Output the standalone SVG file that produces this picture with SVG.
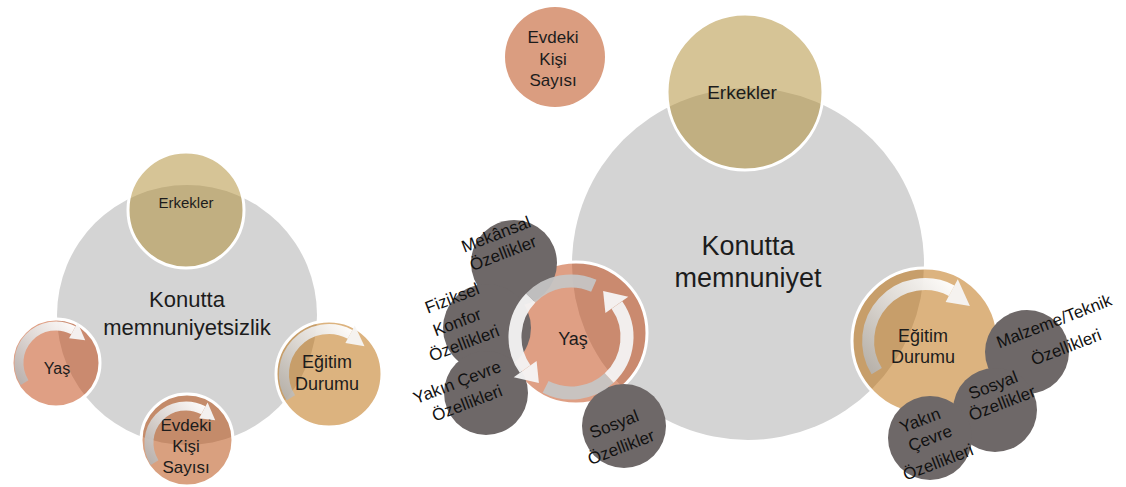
<svg xmlns="http://www.w3.org/2000/svg" width="1126" height="487" viewBox="0 0 1126 487">
<defs>
<style>
text { font-family: "Liberation Sans", Arial, sans-serif; fill: #1c1c1c; text-anchor: middle; }
.hub { fill: #D4D4D4; }
.node { stroke: #ffffff; stroke-width: 3; }
.tan { fill: #AD892D; fill-opacity: 0.5; }
.salmon { fill: #BF3F09; fill-opacity: 0.5; }
.gold { fill: #B96700; fill-opacity: 0.5; }
.clay { fill: #B34100; fill-opacity: 0.5; }
.solid { fill: #DA9D80; }
.dark { fill: #6E6868; }
.lbl { font-size: 17px; fill: #111111; }
.band { fill: none; stroke: url(#armG); }
.gband { fill: none; stroke: #C6C6C6; stroke-opacity: 0.92; stroke-width: 13; }
.wband { fill: none; stroke: #F3F3F3; stroke-opacity: 0.95; stroke-width: 13; }
.head { fill: #F6F6F6; fill-opacity: 0.95; }
</style>
<linearGradient id="armG" x1="0" y1="1" x2="1" y2="0">
<stop offset="0" stop-color="#B4B4B4" stop-opacity="0.85"/>
<stop offset="0.55" stop-color="#E2E2E2" stop-opacity="0.9"/>
<stop offset="1" stop-color="#FFFFFF" stop-opacity="0.95"/>
</linearGradient>
</defs>
<rect width="1126" height="487" fill="#ffffff"/>

<!-- Left diagram -->
<g id="hub-left">
<circle class="hub" cx="187" cy="315" r="130"/>
<text x="187" y="307" font-size="22">Konutta</text>
<text x="187" y="335" font-size="22">memnuniyetsizlik</text>
</g>
<g id="left-erkekler">
<circle class="node tan" cx="186" cy="210" r="58"/>
<text x="186" y="208" font-size="15">Erkekler</text>
</g>
<g id="left-yas">
<circle class="node salmon" cx="56" cy="363" r="44"/>
<text x="57" y="374" font-size="16">Yaş</text>
</g>
<g id="left-egitim">
<circle class="node gold" cx="329" cy="374" r="53"/>
<text x="327" y="368" font-size="18">Eğitim</text>
<text x="327" y="390" font-size="18">Durumu</text>
</g>
<g id="left-evdeki">
<circle class="node clay" cx="187" cy="440" r="46"/>
<text x="186" y="431" font-size="17">Evdeki</text>
<text x="186" y="452" font-size="17">Kişi</text>
<text x="186" y="473" font-size="17">Sayısı</text>
</g>

<!-- Right diagram -->
<g id="hub-right">
<circle class="hub" cx="748" cy="264" r="176"/>
<text x="748" y="255" font-size="27">Konutta</text>
<text x="748" y="287" font-size="27">memnuniyet</text>
</g>
<g id="top-evdeki">
<circle class="solid" cx="555" cy="57" r="50"/>
<text x="553" y="43" font-size="17">Evdeki</text>
<text x="553" y="65" font-size="17">Kişi</text>
<text x="553" y="86" font-size="17">Sayısı</text>
</g>
<g id="right-erkekler">
<circle class="node tan" cx="745" cy="92" r="78"/>
<text x="742" y="99" font-size="19">Erkekler</text>
</g>
<g id="right-yas">
<circle class="node salmon" cx="576" cy="333" r="71"/>
<text x="573" y="345" font-size="18">Yaş</text>
</g>
<g id="right-egitim">
<circle class="node gold" cx="925" cy="341" r="73"/>
<text x="923" y="342" font-size="18">Eğitim</text>
<text x="923" y="363" font-size="18">Durumu</text>
</g>

<!-- Dark attribute circles around Yaş -->
<g id="yas-attributes">
<circle class="dark" cx="514" cy="263" r="43"/>
<circle class="dark" cx="487" cy="328" r="44"/>
<circle class="dark" cx="486" cy="393" r="42"/>
<circle class="dark" cx="624" cy="426" r="42"/>
<text class="lbl" transform="translate(496 234) rotate(-21)" y="6">Mekânsal</text>
<text class="lbl" transform="translate(503 253) rotate(-21)" y="6">Özellikler</text>
<text class="lbl" transform="translate(452 298) rotate(-21)" y="6">Fiziksel</text>
<text class="lbl" transform="translate(457 322) rotate(-21)" y="6">Konfor</text>
<text class="lbl" transform="translate(464 343) rotate(-21)" y="6">Özellikleri</text>
<text class="lbl" transform="translate(457 382) rotate(-21)" y="6">Yakın Çevre</text>
<text class="lbl" transform="translate(467 403) rotate(-21)" y="6">Özellikleri</text>
<text class="lbl" transform="translate(614 424) rotate(-21)" y="6">Sosyal</text>
<text class="lbl" transform="translate(621 447) rotate(-21)" y="6">Özellikler</text>
</g>

<!-- Dark attribute circles around Eğitim Durumu -->
<g id="egitim-attributes">
<circle class="dark" cx="1027" cy="352" r="42"/>
<circle class="dark" cx="995" cy="410" r="42"/>
<circle class="dark" cx="930" cy="438" r="42"/>
<text class="lbl" transform="translate(1054 321) rotate(-21)" y="6">Malzeme/Teknik</text>
<text class="lbl" transform="translate(1066 347) rotate(-21)" y="6">Özellikleri</text>
<text class="lbl" transform="translate(993 385) rotate(-21)" y="6">Sosyal</text>
<text class="lbl" transform="translate(1002 403) rotate(-21)" y="6">Özellikler</text>
<text class="lbl" transform="translate(920 420) rotate(-21)" y="6">Yakın</text>
<text class="lbl" transform="translate(930 438) rotate(-21)" y="6">Çevre</text>
<text class="lbl" transform="translate(938 462) rotate(-21)" y="6">Özellikleri</text>
</g>

<!-- Curved cycle arrows -->
<g id="connectors">
<path class="band" stroke-width="9" d="M24.6,382.6 A37,37 0 0 1 73.4,330.3"/>
<polygon class="head" points="69.1,338.3 77.6,322.4 85.2,340.2"/>
<path class="band" stroke-width="10" d="M290.8,397.9 A45,45 0 0 1 350.1,334.3"/>
<polygon class="head" points="345.4,343.1 354.8,325.4 364.5,346.3"/>
<path class="band" stroke-width="9" d="M154.6,462.6 A37,37 0 0 1 203.4,410.3"/>
<polygon class="head" points="199.1,418.3 207.6,402.4 215.2,420.2"/>
<path class="band" stroke-width="12" d="M876.7,371.2 A57,57 0 0 1 951.7,290.7"/>
<polygon class="head" points="945.6,302.1 957.8,279.2 969.9,305.9"/>
<path class="gband" d="M545.6,386.9 A56,56 0 0 0 609.2,378.0"/>
<path class="wband" d="M609.2,378.0 A56,56 0 0 0 616.9,304.9"/>
<polygon class="head" points="605.4,312.9 628.3,296.8 603.1,291.1"/>
<path class="gband" d="M593.8,285.8 A56,56 0 0 0 530.7,298.1"/>
<path class="wband" d="M530.7,298.1 A56,56 0 0 0 525.1,369.1"/>
<polygon class="head" points="536.6,361.1 513.7,377.2 538.9,382.9"/>
</g>
</svg>
